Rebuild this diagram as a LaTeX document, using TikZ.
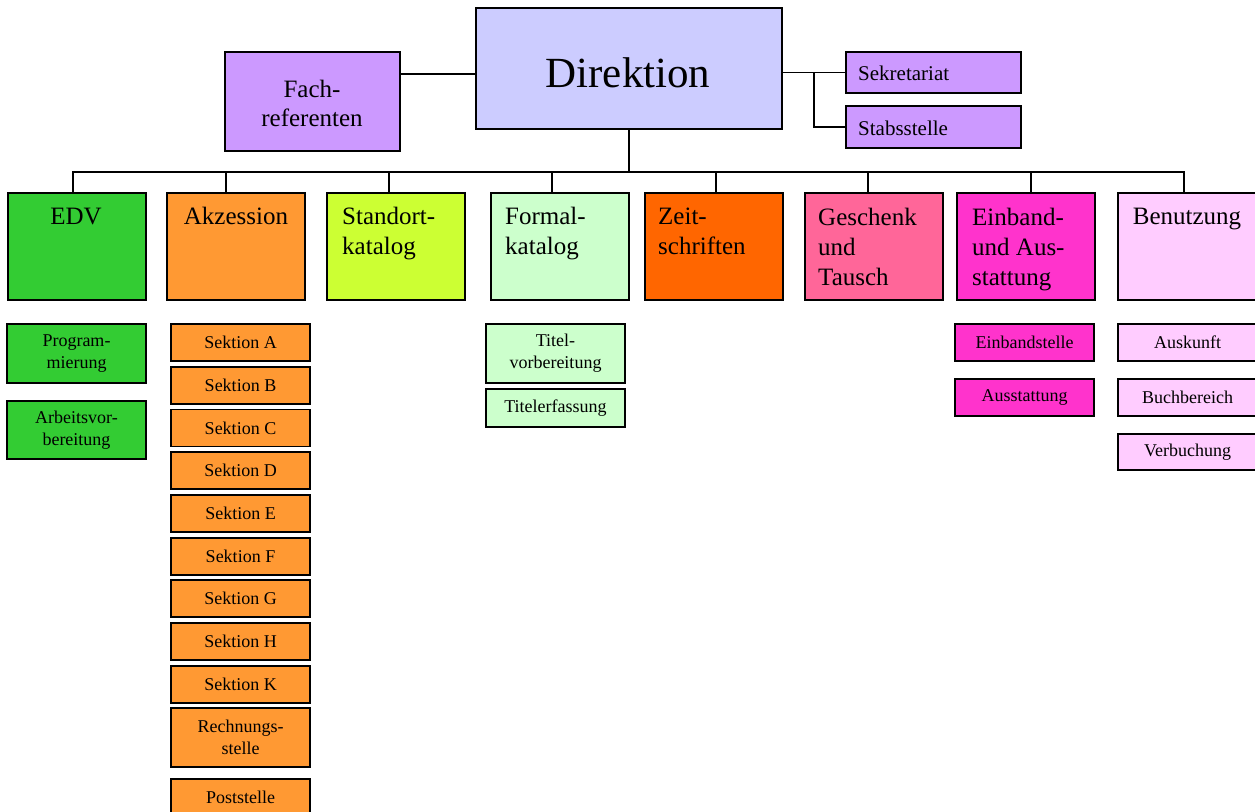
\documentclass[tikz,border=0pt]{standalone}
\usepackage{fontspec}
\setmainfont{Liberation Serif}
\definecolor{cdir}{HTML}{CCCCFF}
\definecolor{cfach}{HTML}{CC99FF}
\definecolor{cedv}{HTML}{33CC33}
\definecolor{cakz}{HTML}{FF9933}
\definecolor{csta}{HTML}{CCFF33}
\definecolor{cfor}{HTML}{CCFFCC}
\definecolor{czei}{HTML}{FF6600}
\definecolor{cges}{HTML}{FF6699}
\definecolor{cein}{HTML}{FF33CC}
\definecolor{cben}{HTML}{FFCCFF}
\begin{document}
\begin{tikzpicture}[x=1pt,y=-1pt,
  box/.style={draw=black,line width=1.6pt,inner sep=0pt,outer sep=0pt},
  rowbox/.style={box,minimum width=138pt,minimum height=107pt},
  subbox/.style={box,minimum width=139pt,minimum height=37pt,
     font=\fontsize{18}{22}\selectfont,align=center},
  rowtext/.style={inner sep=0pt,font=\fontsize{25}{30}\selectfont,align=left},
  conn/.style={line width=1.6pt,line cap=rect}]
\useasboundingbox (0,0) rectangle (1255,811);
% top level
\node[box,fill=cdir,minimum width=306pt,minimum height=121pt] (dir) at (629,68.5) {};
\node[inner sep=0pt,anchor=base,font=\fontsize{43}{50}\selectfont] (dirt) at (628,87) {Direktion};
\node[box,fill=cfach,minimum width=175pt,minimum height=99pt] (fach) at (312.5,101.5) {};
\node[inner sep=0pt,anchor=base,align=center,font=\fontsize{25}{29}\selectfont] (facht) at (312,126) {Fach-\\referenten};
\node[box,fill=cfach,minimum width=175pt,minimum height=41pt] (sek) at (933.5,72.5) {};
\node[inner sep=0pt,anchor=base west,font=\fontsize{21}{25}\selectfont] (sekt) at (858,80) {Sekretariat};
\node[box,fill=cfach,minimum width=175pt,minimum height=42pt] (stab) at (933.5,127) {};
\node[inner sep=0pt,anchor=base west,font=\fontsize{21}{25}\selectfont] (stabt) at (858,135) {Stabsstelle};
% row
\node[rowbox,fill=cedv] (edv) at (77,246.5) {};
\node[rowbox,fill=cakz] (akz) at (236,246.5) {};
\node[rowbox,fill=csta] (sta) at (396,246.5) {};
\node[rowbox,fill=cfor] (for) at (560,246.5) {};
\node[rowbox,fill=czei] (zei) at (714,246.5) {};
\node[rowbox,fill=cges] (ges) at (874,246.5) {};
\node[rowbox,fill=cein] (ein) at (1026,246.5) {};
\node[rowbox,fill=cben] (ben) at (1187,246.5) {};
\node[rowtext,anchor=base] (edvt) at (76,224) {EDV};
\node[rowtext,anchor=base] (akzt) at (236,224) {Akzession};
\node[rowtext,anchor=base west] (stat) at (342,254) {Standort-\\katalog};
\node[rowtext,anchor=base west] (fort) at (505,254) {Formal-\\katalog};
\node[rowtext,anchor=base west] (zeit) at (658,254) {Zeit-\\schriften};
\node[rowtext,anchor=base west] (gest) at (818,285) {Geschenk\\und\\Tausch};
\node[rowtext,anchor=base west] (eint) at (972,285) {Einband-\\und Aus-\\stattung};
\node[rowtext,anchor=base] (bent) at (1187,224) {Benutzung};
% sub boxes
\node[subbox,fill=cedv,minimum height=59pt] (prog) at (76.5,353.5) {Program-\\mierung};
\node[subbox,fill=cedv,minimum height=58pt] (arb) at (76.5,430) {Arbeitsvor-\\bereitung};
\node[subbox,fill=cakz] (sA) at (240.5,342.5) {Sektion A};
\node[subbox,fill=cakz] (sB) at (240.5,385.5) {Sektion B};
\node[subbox,fill=cakz] (sC) at (240.5,428) {Sektion C};
\node[subbox,fill=cakz] (sD) at (240.5,470.5) {Sektion D};
\node[subbox,fill=cakz] (sE) at (240.5,513.5) {Sektion E};
\node[subbox,fill=cakz] (sF) at (240.5,556.5) {Sektion F};
\node[subbox,fill=cakz] (sG) at (240.5,598.5) {Sektion G};
\node[subbox,fill=cakz] (sH) at (240.5,641.5) {Sektion H};
\node[subbox,fill=cakz] (sK) at (240.5,684.5) {Sektion K};
\node[subbox,fill=cakz,minimum height=59pt] (rech) at (240.5,737.5) {Rechnungs-\\stelle};
\node[subbox,fill=cakz] (post) at (240.5,797.5) {Poststelle};
\node[subbox,fill=cfor,minimum height=59pt] (titv) at (555.5,353.5) {Titel-\\vorbereitung};
\node[subbox,fill=cfor,minimum height=38pt] (tite) at (555.5,408) {Titelerfassung};
\node[subbox,fill=cein] (einst) at (1024.5,342.5) {Einbandstelle};
\node[subbox,fill=cein] (auss) at (1024.5,397.5) {Ausstattung};
\node[subbox,fill=cben] (ausk) at (1187.5,342.5) {Auskunft};
\node[subbox,fill=cben] (buch) at (1187.5,397.5) {Buchbereich};
\node[subbox,fill=cben,minimum height=36pt] (verb) at (1187.5,452) {Verbuchung};
% connectors
\coordinate (fy) at (0,74);
\coordinate (bus) at (0,172);
\coordinate (br) at (814,72.5);
\draw[conn] (fach.east |- fy) -- (dir.west |- fy);
\draw[conn] (dir.east |- sek.west) -- (sek.west);
\draw[conn] (br) |- (stab.west);
\draw[conn] (dir.south) -- (dir.south |- bus);
\coordinate (d1) at ([xshift=-4pt]edv.north);
\coordinate (d2) at ([xshift=-10pt]akz.north);
\coordinate (d3) at ([xshift=-7pt]sta.north);
\coordinate (d4) at ([xshift=-8pt]for.north);
\coordinate (d5) at ([xshift=2pt]zei.north);
\coordinate (d6) at ([xshift=-6pt]ges.north);
\coordinate (d7) at ([xshift=5pt]ein.north);
\coordinate (d8) at ([xshift=-3pt]ben.north);
\draw[conn] (d1 |- bus) -- (d8 |- bus);
\foreach \d in {d1,d2,d3,d4,d5,d6,d7,d8}{\draw[conn] (\d) -- (\d |- bus);}
\end{tikzpicture}
\end{document}
